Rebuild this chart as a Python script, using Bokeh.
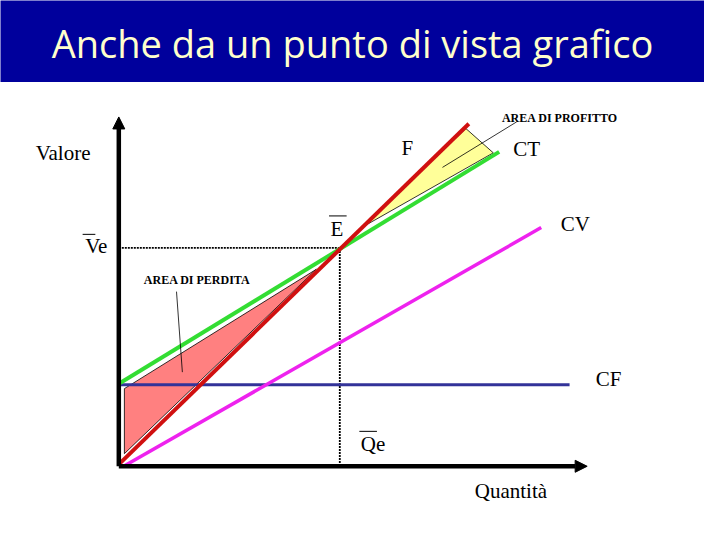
from bokeh.plotting import figure
from bokeh.models import Range1d, Arrow, NormalHead, ColumnDataSource
from bokeh.core.properties import value
from bokeh.embed import file_html
from bokeh.resources import INLINE

# ---- data (value units, origin at the axes' corner) ----
ricavi_q = [0, 358]
ricavi_v = [2, 353]
ct_q = [0, 389]
ct_v = [85, 324]
cv_q = [5, 432]
cv_v = [0, 246]
cf_q = [0, 461]
cf_v = [84, 84]
Qe = 226
Ve = 225
profit_q = [355, 383, 250]
profit_v = [348, 323, 247]
loss_q = [5.7, 5.7, 202]
loss_v = [80, 13, 203]
axis_q_max = 479
axis_v_max = 360

title_text = "Anche da un punto di vista grafico"

p = figure(width=704, height=524, x_range=Range1d(-121, 599), y_range=Range1d(-60, 480),
           output_backend="svg", toolbar_location=None, min_border=0)
p.axis.visible = False
p.grid.visible = False
p.outline_line_color = None
p.background_fill_color = "white"

# title bar
p.quad(left=-130, right=610, bottom=396, top=490, fill_color="#00009C", line_color=None)
p.text(x=[239], y=[436], text=[title_text], text_font=value("Open Sans"),
       text_font_size="38px", text_color="#FFFFCC", text_align="center", text_baseline="middle")

# areas
p.patch(profit_q, profit_v, fill_color="#FFFF99", line_color="black", line_width=0.8)
p.patch(loss_q, loss_v, fill_color="#FF8080", line_color="black", line_width=0.8)

# break-even dotted lines
p.line([0, Qe], [Ve, Ve], line_color="black", line_dash="2 1", line_width=1.8)
p.line([Qe, Qe], [Ve, 0], line_color="black", line_dash="2 1", line_width=1.8)

# cost / revenue lines
p.line(cf_q, cf_v, line_color="#333399", line_width=3)
p.line(cv_q, cv_v, line_color="#EE22EE", line_width=3.5)
p.line(ct_q, ct_v, line_color="#33DD33", line_width=4)
p.line(ricavi_q, ricavi_v, line_color="#D01010", line_width=4)

# axes
p.add_layout(Arrow(end=NormalHead(size=12, fill_color="black", line_color="black"),
                   x_start=0, y_start=0, x_end=0, y_end=axis_v_max, line_width=4.5))
p.add_layout(Arrow(end=NormalHead(size=12, fill_color="black", line_color="black"),
                   x_start=0, y_start=0, x_end=axis_q_max, y_end=0, line_width=4.5))

# pointer lines
p.line([407, 331], [355, 308], line_color="black", line_width=0.8)
p.line([59, 65], [180, 97], line_color="black", line_width=0.8)

# labels
lab = ColumnDataSource(dict(
    x=[-57, -23, 295, 417, 223, 467, 501, 260, 401],
    y=[323, 227, 328, 327, 245, 250, 90, 23, -25],
    t=["Valore", "Ve", "F", "CT", "E", "CV", "CF", "Qe", "Quantità"],
))
p.text(x="x", y="y", text="t", source=lab, text_font=value("Liberation Serif"),
       text_font_size="21px", text_color="black", text_align="center", text_baseline="middle")

# overlines
p.segment(x0=[-37, 215, 246], y0=[239, 258, 36], x1=[-24, 233, 264], y1=[239, 258, 36],
          line_color="black", line_width=1)

small = ColumnDataSource(dict(x=[451, 80], y=[359, 192], t=["AREA DI PROFITTO", "AREA DI PERDITA"]))
p.text(x="x", y="y", text="t", source=small, text_font=value("Liberation Serif"),
       text_font_size="12px", text_font_style="bold", text_color="black",
       text_align="center", text_baseline="middle")

open("out.html", "w").write(file_html(p, INLINE))
